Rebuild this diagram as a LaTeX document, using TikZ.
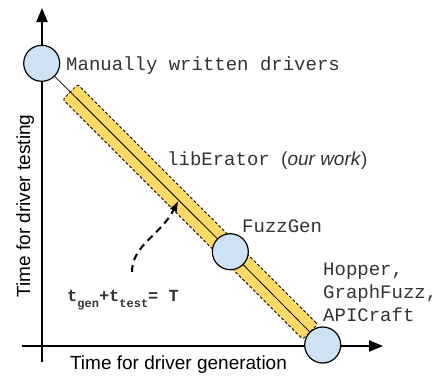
\documentclass[tikz,border=0pt]{standalone}
\usepackage{fontspec}
\setmainfont{Liberation Sans}
\setsansfont{Liberation Sans}
\setmonofont{Liberation Mono}
\usetikzlibrary{arrows.meta,positioning,calc}
\definecolor{bandYellow}{HTML}{FFD966}
\definecolor{toolBlue}{HTML}{CFE2F3}
\definecolor{monoGray}{HTML}{333333}

\tikzset{
  tool/.style={circle,draw,line width=1.2pt,fill=toolBlue,minimum size=36pt,inner sep=0pt},
  monolabel/.style={font=\fontsize{19}{22.7}\selectfont\ttfamily,text=monoGray,inner sep=0pt},
  axislabel/.style={font=\fontsize{19}{22.7}\selectfont\sffamily,inner sep=0pt},
  axis/.style={line width=2pt,-{Triangle[length=14pt,width=11pt]}},
  tradeoff/.style={fill=bandYellow,draw,line width=0.8pt,dash pattern=on 3pt off 2pt,rounded corners=2pt},
}

\begin{document}
\begin{tikzpicture}[x=1pt,y=-1pt]
  \useasboundingbox (0,0) rectangle (444,375);
  % axes
  \coordinate (ybot) at (42,362);
  \coordinate (ytop) at (42,8);
  \coordinate (xleft) at (22,346);
  \coordinate (xright) at (383,346);
  \draw[axis] (ybot) -- (ytop);
  \draw[axis] (xleft) -- (xright);
  \node[axislabel,anchor=base] (xlab) at (178.5,369) {Time for driver generation};
  \node[axislabel,anchor=base,rotate=90] (ylab) at (30,206) {Time for driver testing};
  % band of constant total time
  \node[tradeoff,minimum width=339pt,minimum height=21pt,rotate=-45] (band) at (190.25,211.85) {};
  % tools on the line
  \node[tool] (manual) at (41.7,63.3) {};
  \node[tool] (fuzzgen) at (230.3,251.7) {};
  \node[tool] (hopper) at (322.7,345) {};
  \draw[line width=0.8pt] (manual) -- (fuzzgen);
  \draw[line width=0.8pt] (fuzzgen) -- (hopper);
  \node[monolabel,anchor=base west] (manualtxt) at (66,70) {Manually written drivers};
  \node[monolabel,anchor=base west] (libtxt) at (167,165) {libErator \textsf{(\textit{our work})}};
  \node[monolabel,anchor=base west] (fuzzgentxt) at (242,232) {FuzzGen};
  % base of a multi-line node sits on its last line
  \node[monolabel,anchor=base west,align=left] (hoppertxt) at (323,321) {Hopper,\\GraphFuzz,\\APICraft};
  % t_gen + t_test = T
  \node[anchor=base west,inner sep=0pt,text=monoGray,font=\fontsize{17}{20}\selectfont\ttfamily\bfseries] (sumtxt) at (67,301)
    {t\raisebox{-6pt}{\fontsize{12}{14}\selectfont gen}+t\raisebox{-6pt}{\fontsize{12}{14}\selectfont test}= T};
  \coordinate (arrowstart) at (132,272);
  \coordinate (arrowtip) at ($(manual)!0.487!(hopper)$);
  \draw[line width=2pt,dash pattern=on 7pt off 5pt,-{Latex[length=11pt,width=8pt]}]
    (arrowstart) .. controls (132,245) and (160,236) .. (arrowtip);
\end{tikzpicture}
\end{document}
